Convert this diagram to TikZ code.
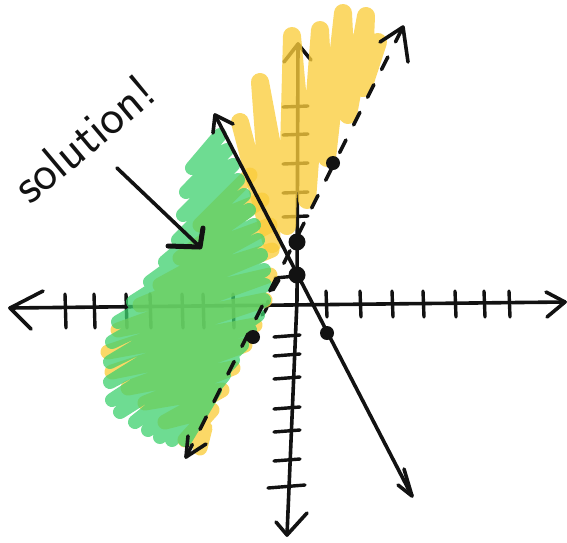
\documentclass[tikz,border=0pt]{standalone}
\begin{document}
\definecolor{hlyellow}{RGB}{250,205,60}
\definecolor{hlgreen}{RGB}{62,208,110}
\definecolor{inkc}{RGB}{18,18,18}
\begin{tikzpicture}[x=1pt,y=-1pt,
  ink/.style={draw=inkc, line width=3.6pt, line cap=round, line join=round},
  axtick/.style={draw=inkc, line width=3.4pt, line cap=round},
  yhl/.style={draw=hlyellow, line width=#1, line cap=round, line join=round, draw opacity=0.78},
  yhl/.default=18pt,
  ghl/.style={draw=hlgreen, line width=14pt, line cap=round, line join=round, draw opacity=0.75},
  blob/.style={circle, fill=inkc, inner sep=0pt, minimum size=#1},
  blob/.default=14pt,
  dashline/.style={ink, dash pattern=on 14pt off 17pt}]
\useasboundingbox (0,0) rectangle (567,542);
% named end points
\coordinate (xL) at (10,308);
\coordinate (xR) at (565,302);
\coordinate (yT) at (298,44);
\coordinate (yM) at (297,300);
\coordinate (yB) at (287,535);
\coordinate (sT) at (215,115);
\coordinate (sB) at (412,496);
\coordinate (dB) at (186,457);
\coordinate (dT) at (403,27);
% axes
\draw[ink] (xL) -- (xR);
\draw[ink] (43,291) -- (xL) -- (31,329);
\draw[ink] (546,292) -- (xR) -- (547,317);
\draw[ink] (yT) -- (yM) -- (yB);
\draw[ink] (284,62) -- (yT) -- (311,60);
\draw[ink] (276,522) -- (yB) -- (307,513);
% ticks
\foreach \x in {65,94,126,150,182,203,233}
  \draw[axtick] (\x,294) -- (\x+1,328);
\foreach \x in {326,360,392,423,455,484,509}
  \draw[axtick] (\x,291) -- (\x+1,317);
\draw[axtick] (268,301) to[bend left=20] (262,315);
\foreach \y in {107,135,164,193,217}
  \draw[axtick] (283,\y) -- (308,\y-1);
\foreach \y in {336,355,378,408,431,460}
  \draw[axtick] (274,\y+1) -- (300,\y-1);
\draw[axtick] (268,488) -- (305,485);
\draw[axtick] (275,278) -- (296,276);
\draw[axtick] (279,280) -- (273,290);
% yellow highlight, lower part
\draw[yhl=15pt] (250,175) -- (200,225) -- (262,200) -- (180,258) -- (270,225) -- (160,285)
  -- (272,250) -- (140,305) -- (270,275) -- (118,330) -- (265,300) -- (108,352)
  -- (255,325) -- (112,372) -- (245,345) -- (128,388) -- (233,368) -- (145,403)
  -- (222,390) -- (165,422) -- (212,410) -- (185,440) -- (205,428) -- (200,448);
% yellow highlight, upper part
\draw[yhl] (240,122) -- (272,244) -- (260,82) -- (287,226) -- (292,36) -- (307,200)
  -- (320,30) -- (327,158) -- (343,13) -- (348,115) -- (366,16) -- (363,88) -- (378,42);
% green highlight
\draw[ghl] (220,135) -- (192,168) -- (227,150) -- (186,192) -- (233,165) -- (183,215)
  -- (238,180) -- (178,240) -- (244,195) -- (165,262) -- (249,210) -- (150,282)
  -- (254,225) -- (133,302) -- (258,240) -- (118,322) -- (261,255) -- (112,342)
  -- (264,270) -- (110,362) -- (265,285) -- (110,382) -- (264,300) -- (112,400)
  -- (258,315) -- (120,412) -- (250,330) -- (135,422) -- (242,345) -- (148,430)
  -- (233,360) -- (160,437) -- (224,375) -- (172,440) -- (215,390) -- (185,440)
  -- (205,405) -- (190,430);
% dashed boundary
\draw[dashline] (dB) -- (dT);
\draw[ink] (380,42) -- (dT) -- (408,62);
\draw[ink] (188,436) -- (dB) -- (206,444);
% solid boundary
\draw[ink] (sT) -- (sB);
\draw[ink] (213,133) -- (sT) -- (233,124);
\draw[ink] (398,485) -- (sB) -- (404,469);
% points
\node[blob=17pt] (p1) at (297,242) {};
\node[blob=17pt] (p2) at (297,275) {};
\node[blob] (p3) at (327,333) {};
\node[blob] (p4) at (253,337) {};
\node[blob] (p5) at (333,163) {};
% label and pointer
\node[rotate=40, anchor=base west, inner sep=0pt, text=inkc,
  font=\sffamily\fontsize{50}{52}\selectfont] (lbl) at (30,206) {solution!};
\coordinate (ptail) at (117,168);
\coordinate (phead) at (200,247);
\draw[ink] (ptail) -- (phead);
\draw[ink, line width=5pt] (168,246) -- (phead) -- (203,228);
\end{tikzpicture}
\end{document}
